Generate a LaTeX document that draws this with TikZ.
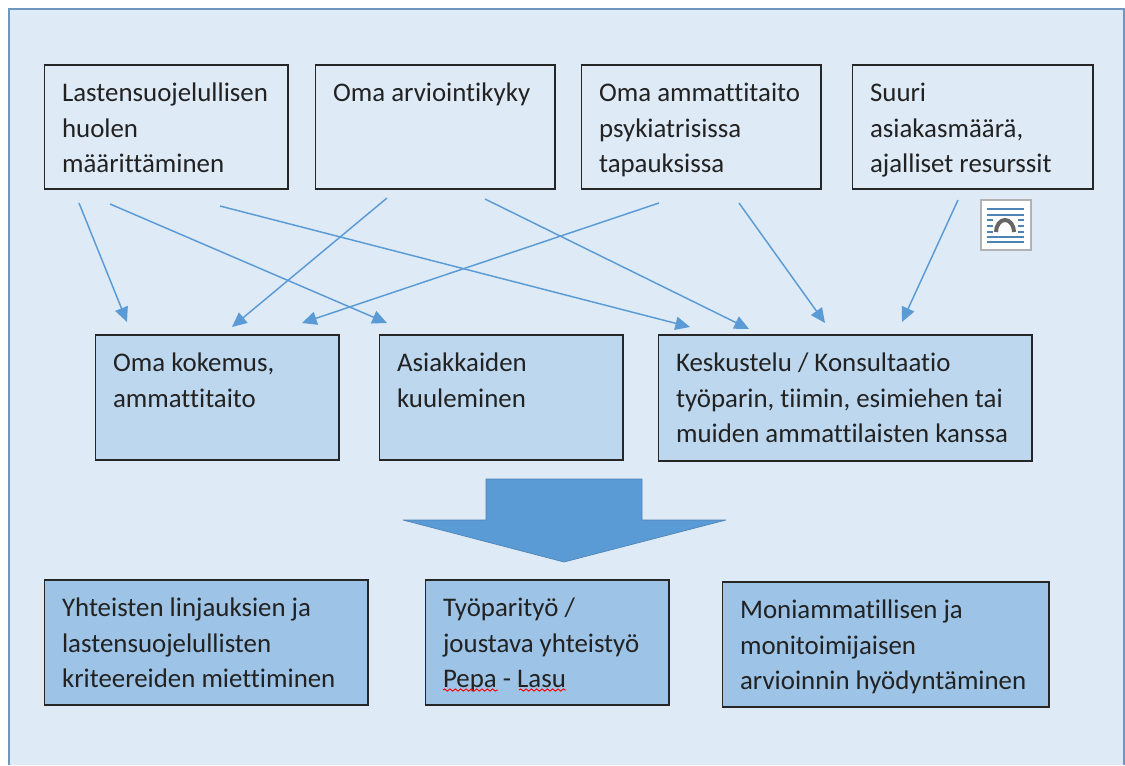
\documentclass[tikz,border=0pt]{standalone}
\usepackage{fontspec}
\setmainfont[Ligatures=NoCommon]{Carlito}
\usetikzlibrary{arrows.meta,decorations.pathmorphing}
\definecolor{panel}{HTML}{DEEAF6}
\definecolor{panelline}{HTML}{6F97BD}
\definecolor{midfill}{HTML}{BDD7EE}
\definecolor{lowfill}{HTML}{9DC3E6}
\definecolor{bigarrow}{HTML}{5B9BD5}
\definecolor{arrowline}{HTML}{5B9BD5}
\definecolor{textcol}{HTML}{222222}
\newdimen\pxu \pxu=0.75pt
\tikzset{
  box/.style={draw=black!85,line width=1.3pt,rectangle,inner sep=0pt,text=textcol,anchor=north west,font=\fontsize{20.15}{26.6}\selectfont},
  toplayer/.style={box,fill=panel},
  midlayer/.style={box,fill=midfill},
  lowlayer/.style={box,fill=lowfill},
  link/.style={draw=arrowline,line width=1.1pt,-{Stealth[length=11pt,width=10pt,inset=0pt]}},
  squiggle/.style={draw=red,line width=0.7pt,decorate,decoration={snake,amplitude=0.8pt,segment length=4pt}},
  iconline/.style={draw=bigarrow!85!black,line width=1pt}
}
% name, x1, y1, width, height, style, left pad, text
\newcommand{\boxnode}[8]{%
  \node[#6] (#1) at (#2-0.4,#3-0.6)
    {\parbox[c][#5\pxu][t]{\dimexpr#4\pxu-0.6\pxu\relax}{\vspace{0pt}\hspace*{\dimexpr#7\pxu-0.4\pxu\relax}\parbox[t]{\dimexpr#4\pxu-#7\pxu\relax}{\rule{0pt}{27.5pt}#8}}};%
}
\begin{document}
\begin{tikzpicture}[x=0.75pt,y=-0.75pt]
\useasboundingbox[fill=white] (0,0) rectangle (1125,765);
\path[fill=panel] (9,9) rectangle (1124,765);
\draw[panelline,line width=1.2pt] (9,765) -- (9,9) -- (1124,9) -- (1124,765);

\boxnode{a1}{44}{65}{244}{124}{toplayer}{18}{Lastensuojelullisen\\huolen\\määrittäminen}
\boxnode{a2}{315}{65}{240}{124}{toplayer}{18}{Oma arviointikyky}
\boxnode{a3}{581}{65}{240}{124}{toplayer}{18}{Oma ammattitaito\\psykiatrisissa\\tapauksissa}
\boxnode{a4}{852}{65}{241}{124}{toplayer}{18}{Suuri\\asiakasmäärä,\\ajalliset resurssit}

\boxnode{b1}{95}{335}{244}{125}{midlayer}{18}{Oma kokemus,\\ammattitaito}
\boxnode{b2}{379}{335}{244}{125}{midlayer}{18}{Asiakkaiden\\kuuleminen}
\boxnode{b3}{658}{335}{374}{126}{midlayer}{18}{Keskustelu / Konsultaatio\\työparin, tiimin, esimiehen tai\\muiden ammattilaisten kanssa}

\boxnode{c1}{44}{580}{324}{125}{lowlayer}{18}{Yhteisten linjauksien ja\\lastensuojelullisten\\kriteereiden miettiminen}
\boxnode{c2}{425}{580}{244}{125}{lowlayer}{18}{Työparityö /\\joustava yhteistyö\\Pepa - Lasu}
\boxnode{c3}{722}{582}{327}{125}{lowlayer}{18}{Moniammatillisen ja\\monitoimijaisen\\arvioinnin hyödyntäminen}

% free connector ends
\coordinate (s1) at (79,203);  \coordinate (e1) at (127,322);
\coordinate (s2) at (110,204); \coordinate (e2) at (387,323);
\coordinate (s3) at (220,206); \coordinate (e3) at (690,327);
\coordinate (s4) at (387,198); \coordinate (e4) at (232,327);
\coordinate (s5) at (485,199); \coordinate (e5) at (749,329);
\coordinate (s6) at (659,203); \coordinate (e6) at (302,323);
\coordinate (s7) at (739,203); \coordinate (e7) at (825,323);
\coordinate (s8) at (958,200); \coordinate (e8) at (902,322);
\foreach \i in {1,...,8} \draw[link] (s\i) -- (e\i);

% block arrow
\path[fill=bigarrow,draw=bigarrow!85!black,line width=0.5pt,line join=bevel]
  (486,479) -- (642,479) -- (642,520) -- (726,520) -- (564,562) -- (403,520) -- (486,520) -- cycle;

% spelling marks
\path[squiggle] (443,690) -- (498,690);
\path[squiggle] (519,690) -- (566,690);

% layout icon
\path[fill=white,draw=black!30,line width=1.4pt] (981,200) rectangle (1031,250);
\foreach \y in {209,215,237,242} \draw[iconline] (987,\y) -- (1024,\y);
\foreach \y in {220,226,232} {\draw[iconline] (987,\y) -- (993,\y); \draw[iconline] (1018,\y) -- (1024,\y);}
\draw[black!60,line width=3pt] (996,232) arc[start angle=180,end angle=0,x radius=9\pxu,y radius=12\pxu];
\end{tikzpicture}
\end{document}
